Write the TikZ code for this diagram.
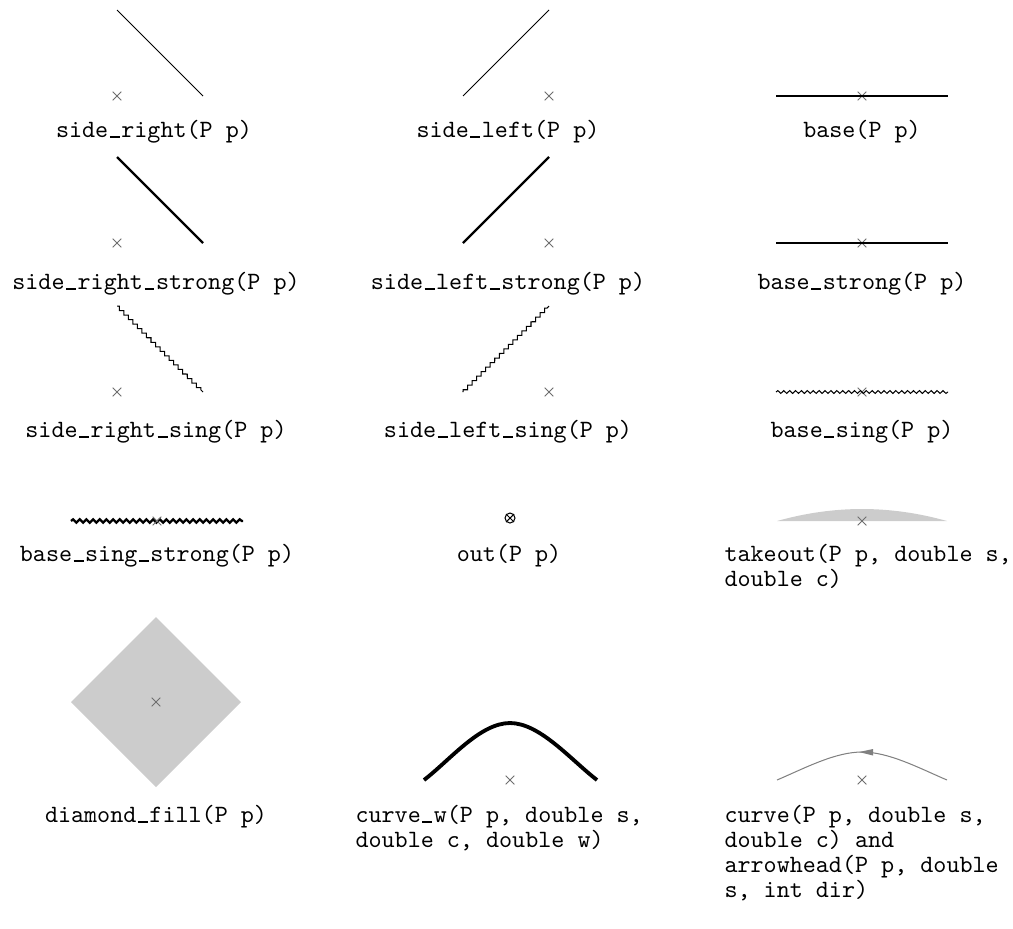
\documentclass[tikz,border=0pt]{standalone}
\usepackage{xcolor}
\usepackage{tikz}
\usetikzlibrary{shapes.misc,decorations.pathmorphing}
\definecolor{mark-gray}{RGB}{110, 110, 110}
\definecolor{fill-gray}{RGB}{204, 204, 204}
\definecolor{curve-gray}{RGB}{128, 128, 128}
\newcommand{\usc}{\makebox[0.525em]{\rule[-0.02em]{0.4em}{0.045em}}}
\tikzset{
  ptmark/.style={cross out, draw=mark-gray, line width=0.3pt, minimum size=3.1pt, inner sep=0pt},
  lbl/.style={font=\ttfamily\fontsize{9.7}{9.75}\selectfont, anchor=base, inner sep=0pt},
  lbllong/.style={lbl, align=left, anchor=base west},
  strong/.style={line width=0.95pt},
  singzig/.style={decorate, decoration={zigzag, segment length=2.5pt, amplitude=0.62pt}},
  singwave/.style={decorate, decoration={snake, segment length=2.3pt, amplitude=0.55pt}},
  singwavestrong/.style={decorate, decoration={snake, segment length=2.6pt, amplitude=0.65pt}, line width=0.9pt}
}

\begin{document}
\begin{tikzpicture}[x=0.39pt, y=-0.39pt, line width=0.4pt]
    \useasboundingbox (0,0) rectangle (1013,928);

    % row 1
    \node[ptmark] (sr) at (117,96) {};
    \node[ptmark] (sl) at (549,96) {};
    \node[ptmark] (ba) at (862,96) {};
    \draw (117,10) -- (203,96);
    \draw (463,96) -- (549,10);
    \draw (776,96) -- (948,96);
    \node[lbl] (srlabel) at (154,137) {side\usc right(P p)};
    \node[lbl] (sllabel) at (508,137) {side\usc left(P p)};
    \node[lbl] (balabel) at (862,137) {base(P p)};

    % row 2
    \node[ptmark] (srs) at (117,243) {};
    \node[ptmark] (sls) at (549,243) {};
    \node[ptmark] (bas) at (862,243) {};
    \draw[strong] (117,157) -- (203,243);
    \draw[strong] (463,243) -- (549,157);
    \draw[strong] (776,243) -- (948,243);
    \node[lbl] (srslabel) at (156,289) {side\usc right\usc strong(P p)};
    \node[lbl] (slslabel) at (508,289) {side\usc left\usc strong(P p)};
    \node[lbl] (baslabel) at (862,289) {base\usc strong(P p)};

    % row 3
    \node[ptmark] (srg) at (117,392) {};
    \node[ptmark] (slg) at (549,392) {};
    \node[ptmark] (bag) at (862,392) {};
    \draw[singzig] (117,306) -- (203,392);
    \draw[singzig] (463,392) -- (549,306);
    \draw[singwave] (776,392) -- (948,392);
    \node[lbl] (srglabel) at (156,437) {side\usc right\usc sing(P p)};
    \node[lbl] (slglabel) at (508,437) {side\usc left\usc sing(P p)};
    \node[lbl] (baglabel) at (862,437) {base\usc sing(P p)};

    % row 4
    \draw[singwavestrong] (71,521) -- (243,521);
    \node[ptmark] (bgs) at (157,521) {};
    \node[circle, draw, minimum size=3.9pt, inner sep=0pt] (out) at (510,518) {};
    \draw (out.north west) -- (out.south east) (out.north east) -- (out.south west);
    \fill[fill-gray] (777,521) .. controls (834,505) and (890,505) .. (947,521) -- cycle;
    \node[ptmark] (tk) at (862,521) {};
    \node[lbl] (bgslabel) at (157,561) {base\usc sing\usc strong(P p)};
    \node[lbl] (outlabel) at (509,561) {out(P p)};
    \node[lbllong] (tklabel) at (724,586) {takeout(P p, double s,\\double c)};

    % row 5
    \fill[fill-gray] (156,617) -- (241,702) -- (156,787) -- (71,702) -- cycle;
    \node[ptmark] (dm) at (156,702) {};
    \draw[line width=1.5pt] (424,780) .. controls (450,760) and (480,723) .. (510,723)
        .. controls (540,723) and (571,760) .. (597,780);
    \node[ptmark] (cw) at (510,780) {};
    \draw[curve-gray] (777,780) .. controls (805,768) and (835,752) .. (862,752)
        .. controls (889,752) and (919,768) .. (947,780);
    \fill[curve-gray] (859,752) -- (873,749) -- (873,755.5) -- cycle;
    \node[ptmark] (cv) at (862,780) {};
    \node[lbl] (dmlabel) at (156,822) {diamond\usc fill(P p)};
    \node[lbllong] (cwlabel) at (355,847) {curve\usc w(P p, double s,\\double c, double w)};
    \node[lbllong] (cvlabel) at (724,897) {curve(P p, double s,\\double c) and\\arrowhead(P p, double\\s, int dir)};
\end{tikzpicture}
\end{document}
